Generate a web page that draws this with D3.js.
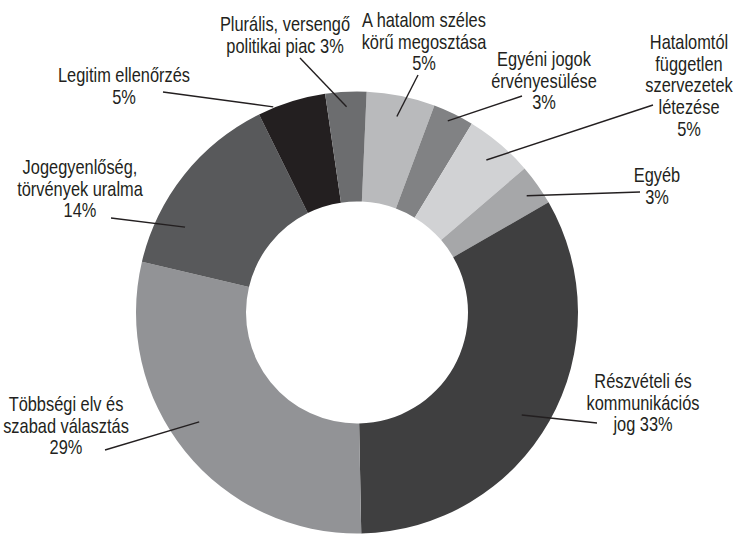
<!DOCTYPE html>
<html>
<head>
<meta charset="utf-8">
<script src="https://cdn.jsdelivr.net/npm/d3@7"></script>
<style>
  body { margin: 0; background: #fff; }
  text { font-family: "Liberation Sans", Arial, sans-serif; font-size: 20px; fill: #231f20; }
</style>
</head>
<body>
<script>
// categories, clockwise from just right of 12 o'clock
const categories = [
  ['A hatalom széles', 'körű megosztása'],
  ['Egyéni jogok', 'érvényesülése'],
  ['Hatalomtól', 'független', 'szervezetek', 'létezése'],
  ['Egyéb'],
  ['Részvételi és', 'kommunikációs', 'jog'],
  ['Többségi elv és', 'szabad választás'],
  ['Jogegyenlőség,', 'törvények uralma'],
  ['Legitim ellenőrzés'],
  ['Plurális, versengő', 'politikai piac']
];
const values = [5, 3, 5, 3, 33, 29, 14, 5, 3];
const colors = ['#b9babc', '#818284', '#d1d2d4', '#a6a7a9', '#3f3f40', '#929396', '#58595b', '#231f20', '#6c6d6f'];

// label layout: text centre x, first baseline y, value inline?, leader start, leader end (fraction along slice, radius)
const layout = [
  { x: 424, y: 27, inline: false, sx: 418, sy: 75, t: 0.5, r: 200 },
  { x: 544, y: 66, inline: false, sx: 522, sy: 96, t: 0.45, r: 212 },
  { x: 689, y: 49, inline: false, sx: 653, sy: 105, t: 0.5, r: 200 },
  { x: 657, y: 182, inline: false, sx: 640, sy: 192, t: 0.57, r: 206 },
  { x: 643, y: 388, inline: true, sx: 597, sy: 423, t: 0.52, r: 194 },
  { x: 66, y: 411, inline: false, sx: 105, sy: 450, t: 0.54, r: 192 },
  { x: 80, y: 174, inline: false, sx: 111, sy: 218, t: 0.26, r: 192 },
  { x: 124, y: 82, inline: false, sx: 163, sy: 92, t: 0.23, r: 222 },
  { x: 285, y: 31, inline: true, sx: 300, sy: 58, t: 0.5, r: 206 }
];

const width = 734, height = 535;
const cx = 357, cy = 312.5, outerR = 221, innerR = 111;
const lineH = 21.7;
const narrow = 0.82; // no condensed face installed, squeeze the regular one
const deg = Math.PI / 180;

const svg = d3.select('body').append('svg')
    .attr('width', width)
    .attr('height', height);

const pie = d3.pie()
    .sort(null)
    .value(d => d)
    .startAngle(2.5 * deg)
    .endAngle(362.5 * deg);

const arcs = pie(values);

const arc = d3.arc()
    .innerRadius(innerR)
    .outerRadius(outerR);

const g = svg.append('g')
    .attr('transform', `translate(${cx},${cy})`);

g.selectAll('path')
    .data(arcs)
    .enter()
    .append('path')
    .attr('d', arc)
    .attr('fill', (d, i) => colors[i]);

// leader lines
svg.append('g').selectAll('line')
    .data(arcs)
    .enter()
    .append('line')
    .attr('x1', (d, i) => layout[i].sx)
    .attr('y1', (d, i) => layout[i].sy)
    .attr('x2', (d, i) => {
      const a = d.startAngle + (d.endAngle - d.startAngle) * layout[i].t;
      return cx + layout[i].r * Math.sin(a);
    })
    .attr('y2', (d, i) => {
      const a = d.startAngle + (d.endAngle - d.startAngle) * layout[i].t;
      return cy - layout[i].r * Math.cos(a);
    })
    .attr('stroke', '#231f20')
    .attr('stroke-width', 1.4);

// labels
const labels = svg.append('g').selectAll('g')
    .data(categories)
    .enter()
    .append('g')
    .attr('transform', (d, i) => `translate(${layout[i].x},${layout[i].y}) scale(${narrow},1)`);

labels.each(function(lines, i) {
  const pct = values[i] + '%';
  let rows = lines.slice();
  if (layout[i].inline) rows[rows.length - 1] += ' ' + pct;
  else rows.push(pct);
  d3.select(this).selectAll('text')
      .data(rows)
      .enter()
      .append('text')
      .attr('text-anchor', 'middle')
      .attr('x', 0)
      .attr('y', (r, k) => k * lineH)
      .text(r => r);
});
</script>
</body>
</html>
